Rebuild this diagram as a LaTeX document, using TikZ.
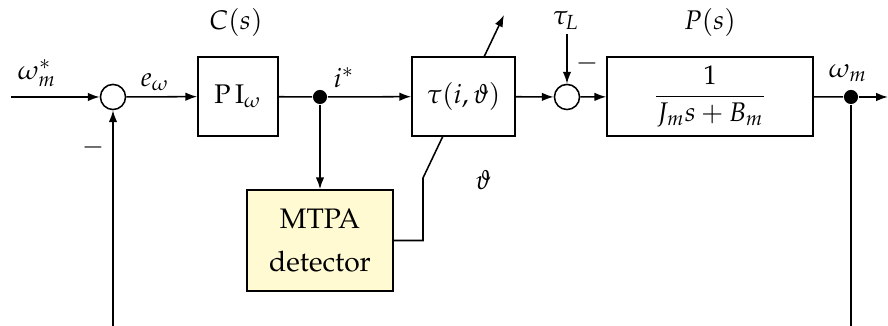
\documentclass[tikz,border=0pt]{standalone}
\usepackage[T1]{fontenc}
\usepackage{mathpazo}
\usetikzlibrary{arrows.meta}
\definecolor{mtpafill}{HTML}{FFFAD2}
\begin{document}
\begin{tikzpicture}[x=0.39pt,y=-0.39pt, line width=0.6pt,
  >={Latex[length=4.6pt,width=3.3pt]},
  every node/.style={font=\fontsize{10.5}{12.5}\selectfont},
  blk/.style={draw, minimum width=#1, minimum height=30.8pt, inner sep=0pt},
  sumc/.style={draw, circle, minimum size=9.8pt, inner sep=0pt},
  jdot/.style={circle, fill, minimum size=5.5pt, inner sep=0pt},
  lbl/.style={inner sep=0pt}]
\useasboundingbox (0,0) rectangle (888,326);
\node[sumc] (s1) at (113,97) {};
\node[blk=31.2pt] (pi) at (238,96.5) {$\mathrm{P\,I}_\omega$};
\node[jdot] (d1) at (320,97) {};
\node[blk=40.2pt] (tau) at (463.5,96.5) {$\tau(i,\vartheta)$};
\node[sumc] (s2) at (567,97) {};
\node[blk=80.3pt] (P) at (710,96.5) {$\displaystyle\frac{1}{J_m s+B_m}$};
\node[jdot] (d2) at (851,97) {};
\node[draw, fill=mtpafill, minimum width=57pt, minimum height=39.4pt, align=center, inner sep=0pt,
  font=\fontsize{11}{13.5}\selectfont] (mtpa) at (320,240.5) {MTPA\\[3pt]detector};
\coordinate (in) at (11,97);
\coordinate (out) at (888,97);
\coordinate (fb1) at (113,326);
\coordinate (fb2) at (851,326);
\coordinate (tl) at (567,34);
\coordinate (k1) at (423,178);
\coordinate (k2) at (443,136);
\coordinate (u1) at (484,57);
\coordinate (u2) at (504,15);
\draw[->] (in) -- (s1);
\draw[->] (s1) -- (pi);
\draw (pi) -- (d1);
\draw[->] (d1) -- (tau);
\draw[->] (tau) -- (s2);
\draw[->] (s2) -- (P);
\draw (P) -- (d2);
\draw[->] (d2) -- (out);
\draw[->] (d1) -- (mtpa);
\draw (d2) -- (fb2);
\draw[->] (fb1) -- (s1);
\draw[->] (tl) -- (s2);
\draw (mtpa.east) -| (k1) -- (k2);
\draw[->] (u1) -- (u2);
\node[lbl] (lc) at (236,22) {$C(s)$};
\node[lbl] (lp) at (710,22) {$P(s)$};
\node[lbl] (ltl) at (566,20) {$\tau_L$};
\node[lbl] (lw) at (37,73) {$\omega_m^*$};
\node[lbl] (le) at (155,82) {$e_\omega$};
\node[lbl] (li) at (344,78) {$i^*$};
\node[lbl] (lwm) at (848,73) {$\omega_m$};
\node[lbl] (lth) at (483,180) {$\vartheta$};
\node[lbl] (m1) at (93,147) {$-$};
\node[lbl] (m2) at (587,63) {$-$};
\end{tikzpicture}
\end{document}
